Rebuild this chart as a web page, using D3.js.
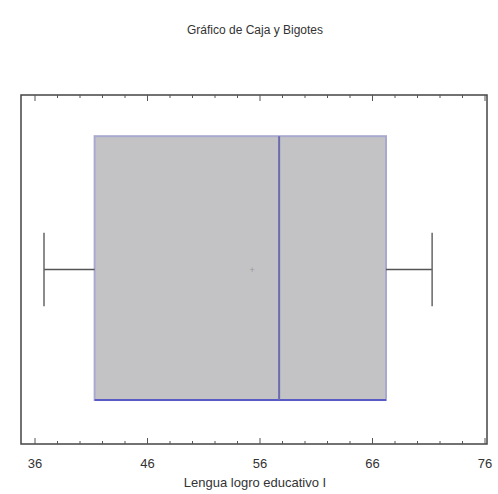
<!DOCTYPE html>
<html>
<head>
<meta charset="utf-8">
<script src="https://cdn.jsdelivr.net/npm/d3@7"></script>
<style>
body { margin: 0; background: #fff; }
</style>
</head>
<body>
<script>
// estimated box plot summary for "Lengua logro educativo I"
let stats = {min: 36.8, q1: 41.3, median: 57.7, mean: 55.3, q3: 67.2, max: 71.3};
let majorTicks = [36, 46, 56, 66, 76];
let minorTicks = d3.range(36, 77, 2);

let svg = d3.select('body').append('svg')
    .attr('width', 498)
    .attr('height', 494);

let frame = {left: 21, right: 487, top: 95, bottom: 444};
let x = d3.scaleLinear().domain([36, 76]).range([35, 485]);
let y = d3.scaleLinear().domain([0, 1]).range([frame.bottom, frame.top]);

svg.append('text')
    .attr('x', 255).attr('y', 34)
    .attr('text-anchor', 'middle')
    .style('font-family', 'Liberation Sans Narrow, Liberation Sans, Arial, sans-serif')
    .style('font-size', '12px')
    .attr('fill', '#333')
    .text('Gráfico de Caja y Bigotes');

// box
let boxTop = y(0.882), boxBottom = y(0.126), mid = y(0.5);
svg.append('rect')
    .attr('x', x(stats.q1))
    .attr('y', boxTop)
    .attr('width', x(stats.q3) - x(stats.q1))
    .attr('height', boxBottom - boxTop)
    .attr('fill', '#c3c3c6')
    .attr('stroke', '#a9a9cf')
    .attr('stroke-width', 2);
svg.append('line')
    .attr('x1', x(stats.q1)).attr('x2', x(stats.q3))
    .attr('y1', boxBottom).attr('y2', boxBottom)
    .attr('stroke', '#5a5ac4').attr('stroke-width', 2);
svg.append('line')
    .attr('x1', x(stats.median)).attr('x2', x(stats.median))
    .attr('y1', boxTop).attr('y2', boxBottom)
    .attr('stroke', '#6b6bb0').attr('stroke-width', 2);

// whiskers
let capTop = y(0.605), capBottom = y(0.395);
[[stats.min, stats.q1], [stats.q3, stats.max]].forEach(function (w) {
    svg.append('line')
        .attr('x1', x(w[0])).attr('x2', x(w[1]))
        .attr('y1', mid).attr('y2', mid)
        .attr('stroke', '#555').attr('stroke-width', 1.5);
});
[stats.min, stats.max].forEach(function (v) {
    svg.append('line')
        .attr('x1', x(v)).attr('x2', x(v))
        .attr('y1', capTop).attr('y2', capBottom)
        .attr('stroke', '#666').attr('stroke-width', 1.5);
});

// mean marker
svg.append('text')
    .attr('x', x(stats.mean)).attr('y', mid + 3)
    .attr('text-anchor', 'middle')
    .style('font-family', 'Liberation Sans, Arial, sans-serif')
    .style('font-size', '9px')
    .attr('fill', '#999')
    .text('+');

// frame
svg.append('rect')
    .attr('x', frame.left).attr('y', frame.top)
    .attr('width', frame.right - frame.left)
    .attr('height', frame.bottom - frame.top)
    .attr('fill', 'none')
    .attr('stroke', '#444').attr('stroke-width', 1.5);

// ticks top and bottom
minorTicks.forEach(function (t) {
    let len = majorTicks.indexOf(t) >= 0 ? 6 : 3;
    svg.append('line')
        .attr('x1', x(t)).attr('x2', x(t))
        .attr('y1', frame.top).attr('y2', frame.top + len)
        .attr('stroke', '#555');
    svg.append('line')
        .attr('x1', x(t)).attr('x2', x(t))
        .attr('y1', frame.bottom).attr('y2', frame.bottom - len)
        .attr('stroke', '#555');
});

svg.selectAll('.tl')
    .data(majorTicks)
    .enter()
    .append('text')
    .attr('class', 'tl')
    .attr('x', function (d) { return x(d); })
    .attr('y', 468)
    .attr('text-anchor', 'middle')
    .style('font-family', 'Liberation Sans, Arial, sans-serif')
    .style('font-size', '13px')
    .attr('fill', '#333')
    .text(function (d) { return d; });

svg.append('text')
    .attr('x', 255).attr('y', 487)
    .attr('text-anchor', 'middle')
    .style('font-family', 'Liberation Sans, Arial, sans-serif')
    .style('font-size', '13px')
    .attr('fill', '#333')
    .text('Lengua logro educativo I');
</script>
</body>
</html>
